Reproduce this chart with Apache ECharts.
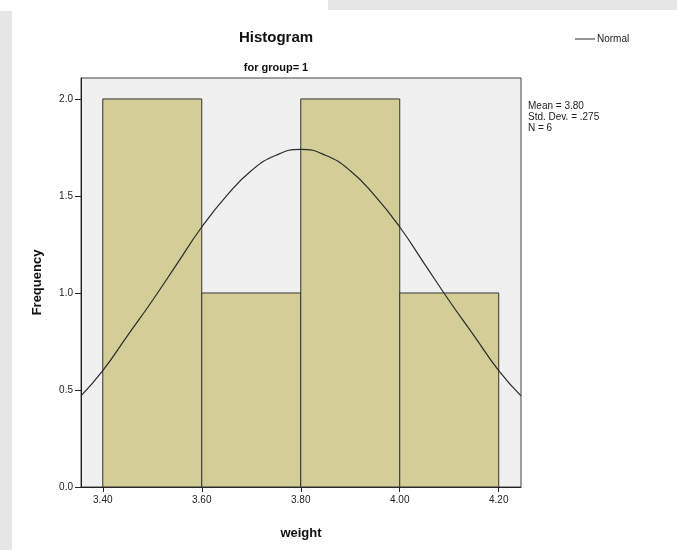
<!DOCTYPE html>
<html>
<head>
<meta charset="utf-8">
<script src="https://cdn.jsdelivr.net/npm/echarts@6/dist/echarts.min.js"></script>
<style>
  html, body { margin: 0; padding: 0; background: #fff; }
  #chart { width: 677px; height: 550px; }
</style>
</head>
<body>
<div id="chart"></div>
<script>
// histogram bins (weight) and counts
var binStart = [3.4, 3.6, 3.8, 4.0];
var binEnd = [3.6, 3.8, 4.0, 4.2];
var counts = [2, 1, 2, 1];

// normal curve
var curveX = [3.356, 3.40, 3.45, 3.50, 3.55, 3.60, 3.65, 3.70, 3.75, 3.80, 3.85, 3.90, 3.95, 4.00, 4.05, 4.10, 4.15, 4.20, 4.245];
var curveY = [0.47, 0.60, 0.78, 0.96, 1.15, 1.34, 1.50, 1.63, 1.71, 1.74, 1.71, 1.63, 1.50, 1.34, 1.15, 0.96, 0.78, 0.60, 0.47];

var xTicks = [3.4, 3.6, 3.8, 4.0, 4.2];
var yTicks = [0, 0.5, 1.0, 1.5, 2.0];
var statsLines = ['Mean = 3.80', 'Std. Dev. = .275', 'N = 6'];

var chart = echarts.init(document.getElementById('chart'));

var bars = binStart.map(function (s, i) { return [s, binEnd[i], counts[i]]; });
var curve = curveX.map(function (x, i) { return [x, curveY[i]]; });

var font = '"Liberation Sans", Arial, sans-serif';

var option = {
  animation: false,
  textStyle: { fontFamily: font },
  title: [
    { text: 'Histogram', left: 271, top: 25, textAlign: 'center',
      textStyle: { fontSize: 15, fontWeight: 'bold', color: '#111', fontFamily: font } },
    { text: 'for group= 1', left: 271, top: 57, textAlign: 'center',
      textStyle: { fontSize: 11, fontWeight: 'bold', color: '#111', fontFamily: font } }
  ],
  legend: {
    data: [{ name: 'Normal', icon: 'rect' }],
    left: 570, top: 29,
    itemWidth: 20, itemHeight: 1, itemGap: 2,
    textStyle: { fontSize: 10, color: '#222', fontFamily: font, padding: [0, 0, 0, -3] }
  },
  grid: {
    left: 81, right: 156, top: 78, bottom: 63,
    show: true, backgroundColor: '#f0f0f0', borderColor: '#444', borderWidth: 1
  },
  xAxis: {
    type: 'value', min: 3.356, max: 4.245,
    name: 'weight', nameLocation: 'middle', nameGap: 40,
    nameTextStyle: { fontSize: 13, fontWeight: 'bold', color: '#111', fontFamily: font },
    splitLine: { show: false },
    axisLine: { lineStyle: { color: '#222' } },
    axisTick: { show: true, length: 5, customValues: xTicks, lineStyle: { color: '#222' } },
    axisLabel: { customValues: xTicks, fontSize: 10, color: '#222', margin: 8,
      formatter: function (v) { return v.toFixed(2); } }
  },
  yAxis: {
    type: 'value', min: 0, max: 2.108,
    name: 'Frequency', nameLocation: 'middle', nameGap: 37, nameRotate: 90,
    nameTextStyle: { fontSize: 13, fontWeight: 'bold', color: '#111', fontFamily: font },
    splitLine: { show: false },
    axisLine: { show: true, lineStyle: { color: '#222' } },
    axisTick: { show: true, length: 6, customValues: yTicks, lineStyle: { color: '#222' } },
    axisLabel: { customValues: yTicks, fontSize: 10, color: '#222', margin: 8,
      formatter: function (v) { return v.toFixed(1); } }
  },
  series: [
    {
      type: 'custom',
      name: 'bins',
      data: bars,
      renderItem: function (params, api) {
        var p0 = api.coord([api.value(0), 0]);
        var p1 = api.coord([api.value(1), api.value(2)]);
        return {
          type: 'rect',
          shape: { x: p0[0], y: p1[1], width: p1[0] - p0[0], height: p0[1] - p1[1] },
          style: { fill: '#d3ce98', stroke: '#333', lineWidth: 1 }
        };
      },
      encode: { x: [0, 1], y: 2 },
      z: 2
    },
    {
      type: 'line',
      name: 'Normal',
      data: curve,
      smooth: true,
      showSymbol: false,
      lineStyle: { color: '#2a2a2a', width: 1.2 },
      itemStyle: { color: '#2a2a2a' },
      z: 3
    }
  ],
  graphic: [
    { type: 'rect', left: 328, top: 0, shape: { width: 349, height: 10 }, style: { fill: '#e6e6e6' } },
    { type: 'rect', left: 0, top: 11, shape: { width: 12, height: 539 }, style: { fill: '#e6e6e6' } },
    { type: 'text', left: 528, top: 101,
      style: { text: statsLines.join('\n'), fontSize: 10, lineHeight: 11, fill: '#222', fontFamily: font } }
  ]
};

chart.setOption(option);
</script>
</body>
</html>
